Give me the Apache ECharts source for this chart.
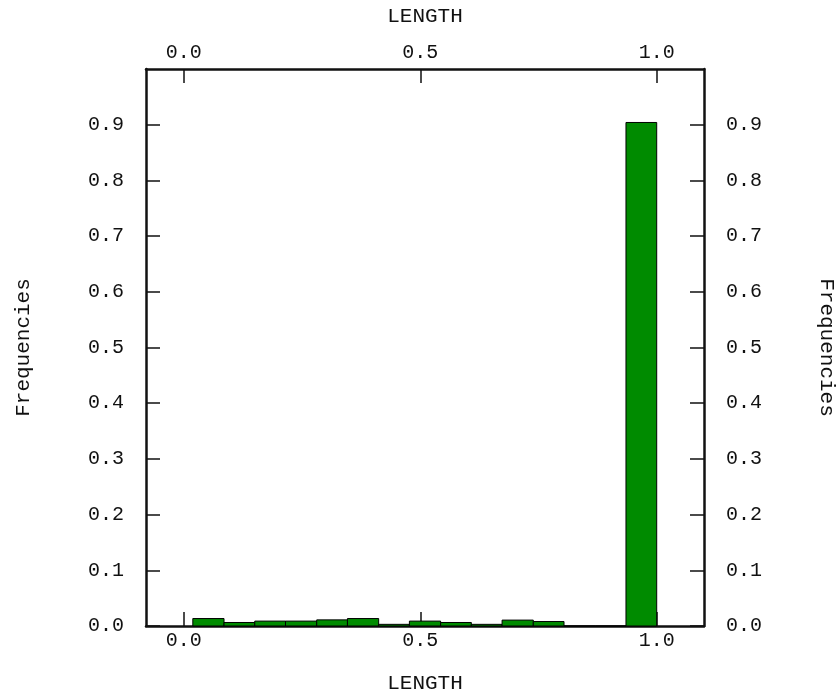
<!DOCTYPE html>
<html>
<head>
<meta charset="utf-8">
<script src="https://cdn.jsdelivr.net/npm/echarts@6/dist/echarts.min.js"></script>
<style>
  html, body { margin: 0; padding: 0; background: #fff; overflow: hidden; }
  #chart { width: 839px; height: 692px; }
</style>
</head>
<body>
<div id="chart"></div>
<script>
// histogram bin edges (LENGTH) and relative frequencies
var binEdges = [0.019, 0.085, 0.150, 0.215, 0.281, 0.346, 0.412, 0.477, 0.543, 0.608, 0.673, 0.739, 0.804, 0.870, 0.935, 1.0];
var frequencies = [0.0134, 0.0063, 0.0088, 0.0088, 0.011, 0.0134, 0.003, 0.0088, 0.0063, 0.003, 0.0106, 0.008, 0, 0, 0.904];
var xTicks = [0.0, 0.5, 1.0];
var yTicks = [0.0, 0.1, 0.2, 0.3, 0.4, 0.5, 0.6, 0.7, 0.8, 0.9];

var chartDom = document.getElementById('chart');
var myChart = echarts.init(chartDom, null, { width: 839, height: 692 });
var option;

var bins = [];
for (var i = 0; i < frequencies.length; i++) {
  bins.push([binEdges[i], binEdges[i + 1], frequencies[i]]);
}

var tickFont = { fontFamily: 'Liberation Mono', fontSize: 20, color: '#111' };
var nameFont = { fontFamily: 'Liberation Mono', fontSize: 21, color: '#111' };
var lineStyle = { color: '#111', width: 2.5 };

function xAxisOf(pos, gap) {
  return {
    type: 'value',
    position: pos,
    min: -0.08,
    max: 1.1,
    name: 'LENGTH',
    nameLocation: 'middle',
    nameGap: gap,
    nameTextStyle: nameFont,
    axisLine: { show: true, onZero: false, lineStyle: lineStyle },
    axisTick: { show: true, inside: true, length: 14, customValues: xTicks, lineStyle: { color: '#111', width: 1.5 } },
    axisLabel: {
      customValues: xTicks,
      margin: pos === 'top' ? 6 : 5,
      formatter: function (v) { return v.toFixed(1); },
      fontFamily: tickFont.fontFamily, fontSize: tickFont.fontSize, color: tickFont.color
    },
    splitLine: { show: false }
  };
}

function yAxisOf(pos, rot) {
  return {
    type: 'value',
    position: pos,
    min: 0,
    max: 1.0,
    name: 'Frequencies',
    nameLocation: 'middle',
    nameRotate: rot,
    nameGap: 112,
    nameTextStyle: nameFont,
    axisLine: { show: true, onZero: false, lineStyle: lineStyle },
    axisTick: { show: true, inside: true, length: 14, customValues: yTicks, lineStyle: { color: '#111', width: 1.5 } },
    axisLabel: {
      customValues: yTicks,
      margin: 22,
      formatter: function (v) { return v.toFixed(1); },
      fontFamily: tickFont.fontFamily, fontSize: tickFont.fontSize, color: tickFont.color
    },
    splitLine: { show: false }
  };
}

option = {
  backgroundColor: '#fff',
  animation: false,
  grid: { left: 146, top: 69, width: 558, height: 557, containLabel: false, outerBoundsMode: 'none' },
  xAxis: [xAxisOf('bottom', 47), xAxisOf('top', 42)],
  yAxis: [yAxisOf('left', 90), yAxisOf('right', -90)],
  series: [
    {
      type: 'custom',
      xAxisIndex: 0,
      yAxisIndex: 0,
      z: 1,
      renderItem: function (params, api) {
        var p0 = api.coord([api.value(0), api.value(2)]);
        var p1 = api.coord([api.value(1), 0]);
        return {
          type: 'rect',
          shape: { x: p0[0], y: p0[1], width: p1[0] - p0[0], height: p1[1] - p0[1] },
          style: { fill: '#008b00', stroke: '#000', lineWidth: 1 }
        };
      },
      encode: { x: [0, 1], y: 2 },
      data: bins
    }
  ]
};

option && myChart.setOption(option);
</script>
</body>
</html>
